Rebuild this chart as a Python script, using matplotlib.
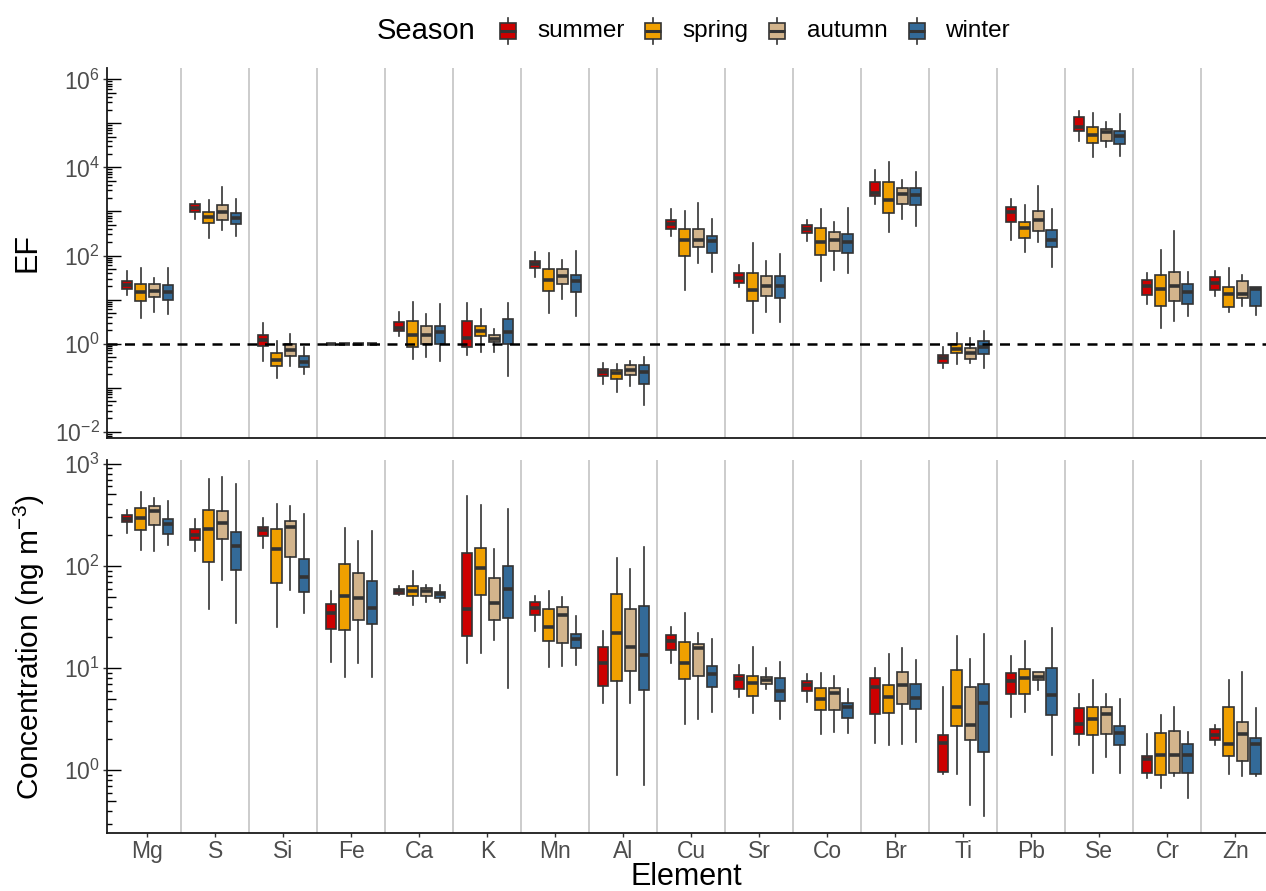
import numpy as np
import matplotlib
matplotlib.use('Agg')
import matplotlib.pyplot as plt
from matplotlib.transforms import blended_transform_factory
from matplotlib.patches import Rectangle
from matplotlib.lines import Line2D

plt.rcParams['font.family'] = ['Liberation Sans', 'DejaVu Sans']
plt.rcParams['mathtext.fontset'] = 'custom'
plt.rcParams['mathtext.rm'] = 'Liberation Sans'
plt.rcParams['mathtext.it'] = 'Liberation Sans:italic'
plt.rcParams['mathtext.bf'] = 'Liberation Sans:bold'
plt.rcParams['mathtext.default'] = 'regular'

elements = ['Mg', 'S', 'Si', 'Fe', 'Ca', 'K', 'Mn', 'Al', 'Cu', 'Sr', 'Co',
            'Br', 'Ti', 'Pb', 'Se', 'Cr', 'Zn']
seasons = ['summer', 'spring', 'autumn', 'winter']
colors = ['#CC0000', '#F0A000', '#D2B48C', '#336A98']

# log10 of (whisker low, Q1, median, Q3, whisker high), one row per element
EF_SUMMER_LOG10 = [
    (1.103, 1.239, 1.330, 1.421, 1.640), (2.821, 2.995, 3.078, 3.161, 3.237),
    (-0.395, -0.055, 0.082, 0.188, 0.468), (0, 0, 0, 0, 0),
    (0.165, 0.278, 0.362, 0.490, 0.717), (-0.251, -0.085, 0.135, 0.520, 0.929),
    (1.512, 1.716, 1.799, 1.875, 2.079), (-0.917, -0.743, -0.652, -0.577, -0.441),
    (2.443, 2.594, 2.707, 2.798, 3.063), (1.277, 1.376, 1.489, 1.595, 1.792),
    (2.329, 2.511, 2.609, 2.700, 2.798), (3.177, 3.343, 3.426, 3.661, 3.933),
    (-0.554, -0.433, -0.319, -0.259, -0.085), (2.352, 2.753, 2.995, 3.093, 3.275),
    (4.607, 4.834, 4.925, 5.152, 5.273), (0.906, 1.111, 1.307, 1.451, 1.595),
    (1.073, 1.217, 1.368, 1.519, 1.656)]
EF_SPRING_LOG10 = [
    (0.573, 0.967, 1.164, 1.360, 1.724), (2.405, 2.738, 2.866, 2.995, 3.252),
    (-0.773, -0.516, -0.365, -0.214, 0.059), (0, 0, 0, 0, 0),
    (-0.350, -0.085, 0.195, 0.505, 0.937), (-0.191, 0.165, 0.286, 0.407, 0.778),
    (0.687, 1.194, 1.436, 1.693, 2.064), (-1.091, -0.796, -0.675, -0.592, -0.463),
    (1.217, 1.981, 2.344, 2.601, 3.018), (0.241, 0.959, 1.209, 1.595, 2.276),
    (1.421, 2.011, 2.299, 2.617, 3.063), (2.541, 2.972, 3.252, 3.676, 4.130),
    (-0.471, -0.214, -0.115, -0.017, 0.248), (2.079, 2.390, 2.617, 2.768, 3.139),
    (4.244, 4.546, 4.728, 4.925, 5.235), (0.362, 0.853, 1.232, 1.557, 2.125),
    (0.710, 0.831, 1.118, 1.292, 1.708)]
EF_AUTUMN_LOG10 = [
    (0.710, 1.050, 1.186, 1.345, 1.481), (2.571, 2.813, 2.980, 3.146, 3.547),
    (-0.509, -0.289, -0.153, 0.0, 0.218), (0, 0, 0, 0, 0),
    (-0.304, -0.017, 0.203, 0.407, 0.664), (-0.183, 0.036, 0.112, 0.188, 0.324),
    (1.005, 1.353, 1.534, 1.693, 1.905), (-0.955, -0.713, -0.599, -0.494, -0.403),
    (1.830, 2.200, 2.344, 2.609, 3.184), (0.710, 1.088, 1.307, 1.542, 1.875),
    (1.671, 2.094, 2.352, 2.541, 2.768), (2.836, 3.177, 3.404, 3.525, 3.721),
    (-0.441, -0.342, -0.206, -0.092, 0.135), (2.306, 2.564, 2.806, 3.003, 3.578),
    (4.455, 4.607, 4.811, 4.864, 5.038), (0.513, 0.967, 1.307, 1.618, 2.564),
    (0.846, 1.027, 1.126, 1.413, 1.557)]
EF_WINTER_LOG10 = [
    (0.679, 0.982, 1.171, 1.323, 1.724), (2.450, 2.723, 2.844, 2.965, 3.282),
    (-0.698, -0.539, -0.425, -0.289, -0.077), (0, 0, 0, 0, 0),
    (-0.403, 0.0, 0.271, 0.407, 0.899), (-0.736, -0.008, 0.256, 0.558, 0.914),
    (0.634, 1.164, 1.421, 1.550, 2.110), (-1.394, -0.925, -0.637, -0.494, -0.304),
    (1.625, 2.064, 2.329, 2.443, 2.828), (0.483, 1.043, 1.300, 1.542, 2.026),
    (1.610, 2.057, 2.306, 2.480, 3.071), (2.670, 3.139, 3.381, 3.540, 3.903),
    (-0.561, -0.236, -0.070, 0.051, 0.278), (1.731, 2.185, 2.344, 2.571, 3.063),
    (4.266, 4.539, 4.713, 4.826, 5.212), (0.619, 0.891, 1.164, 1.345, 1.633),
    (0.649, 0.853, 1.232, 1.292, 1.292)]

CONC_SUMMER_LOG10 = [
    (2.322, 2.426, 2.459, 2.498, 2.547), (2.149, 2.250, 2.299, 2.364, 2.459),
    (2.179, 2.293, 2.351, 2.384, 2.466), (1.063, 1.383, 1.539, 1.627, 1.755),
    (1.712, 1.722, 1.758, 1.771, 1.803), (1.053, 1.311, 1.575, 2.126, 2.681),
    (1.363, 1.516, 1.585, 1.650, 1.706), (0.659, 0.822, 1.047, 1.207, 1.366),
    (1.050, 1.177, 1.265, 1.321, 1.399), (0.717, 0.792, 0.890, 0.929, 1.027),
    (0.668, 0.776, 0.835, 0.874, 0.942), (0.270, 0.554, 0.812, 0.907, 0.998),
    (-0.033, -0.020, 0.264, 0.346, 0.818), (0.518, 0.747, 0.877, 0.955, 1.122),
    (0.244, 0.359, 0.453, 0.606, 0.747), (-0.072, -0.030, 0.111, 0.143, 0.355),
    (0.251, 0.297, 0.349, 0.401, 0.447)]
CONC_SPRING_LOG10 = [
    (2.152, 2.355, 2.469, 2.570, 2.726), (1.575, 2.038, 2.361, 2.547, 2.847),
    (1.402, 1.830, 2.169, 2.364, 2.603), (0.910, 1.373, 1.702, 2.015, 2.368),
    (1.618, 1.702, 1.755, 1.807, 1.947), (1.145, 1.719, 1.983, 2.172, 2.593),
    (1.014, 1.265, 1.402, 1.575, 1.755), (-0.049, 0.871, 1.347, 1.722, 2.077),
    (0.456, 0.890, 1.047, 1.259, 1.542), (0.561, 0.730, 0.854, 0.926, 1.203),
    (0.355, 0.587, 0.701, 0.802, 0.952), (0.248, 0.558, 0.721, 0.835, 1.135),
    (-0.036, 0.434, 0.623, 0.982, 1.314), (0.567, 0.744, 0.900, 0.991, 1.265),
    (-0.023, 0.342, 0.502, 0.620, 0.884), (-0.170, -0.043, 0.147, 0.362, 0.538),
    (-0.036, 0.137, 0.257, 0.623, 0.887)]
CONC_AUTUMN_LOG10 = [
    (2.149, 2.397, 2.537, 2.583, 2.661), (1.865, 2.260, 2.420, 2.534, 2.867),
    (1.768, 2.090, 2.377, 2.443, 2.589), (1.047, 1.471, 1.689, 1.934, 2.244),
    (1.644, 1.709, 1.751, 1.781, 1.810), (1.275, 1.471, 1.634, 1.885, 2.169),
    (1.024, 1.246, 1.523, 1.595, 1.699), (0.662, 0.968, 1.210, 1.578, 1.967),
    (0.499, 0.923, 1.200, 1.233, 1.340), (0.796, 0.841, 0.887, 0.913, 1.001),
    (0.378, 0.593, 0.760, 0.809, 0.926), (0.257, 0.649, 0.832, 0.965, 1.194),
    (-0.343, 0.297, 0.447, 0.818, 1.092), (0.786, 0.880, 0.910, 0.959, 0.959),
    (0.130, 0.352, 0.554, 0.620, 0.747), (-0.056, -0.026, 0.147, 0.381, 0.616),
    (-0.052, 0.094, 0.352, 0.473, 0.965)]
CONC_WINTER_LOG10 = [
    (2.201, 2.315, 2.407, 2.462, 2.635), (1.445, 1.963, 2.195, 2.335, 2.805),
    (1.536, 1.748, 1.895, 2.068, 2.508), (0.916, 1.435, 1.585, 1.852, 2.342),
    (1.644, 1.683, 1.722, 1.745, 1.816), (0.809, 1.487, 1.774, 1.996, 2.554),
    (1.027, 1.197, 1.282, 1.334, 1.510), (-0.144, 0.786, 1.128, 1.608, 2.188),
    (0.571, 0.815, 0.939, 1.021, 1.288), (0.505, 0.678, 0.776, 0.900, 1.063),
    (0.362, 0.509, 0.616, 0.659, 0.799), (0.280, 0.600, 0.708, 0.841, 1.076),
    (-0.447, 0.179, 0.655, 0.841, 1.334), (0.147, 0.538, 0.737, 0.998, 1.389),
    (-0.030, 0.244, 0.362, 0.437, 0.694), (-0.271, -0.030, 0.147, 0.257, 0.375),
    (-0.056, -0.036, 0.261, 0.313, 0.610)]

EF_TABLES = [EF_SUMMER_LOG10, EF_SPRING_LOG10, EF_AUTUMN_LOG10, EF_WINTER_LOG10]
CONC_TABLES = [CONC_SUMMER_LOG10, CONC_SPRING_LOG10, CONC_AUTUMN_LOG10, CONC_WINTER_LOG10]

W, H = 1266, 891
fig = plt.figure(figsize=(W / 100, H / 100), dpi=100)
AX_LEFT, AX_RIGHT = 106.7, 1266
ax_w_px = AX_RIGHT - AX_LEFT


def add_ax(top_px, bot_px):
    return fig.add_axes([AX_LEFT / W, 1 - bot_px / H, ax_w_px / W, (bot_px - top_px) / H])


ax1 = add_ax(68.3, 438.3)
ax2 = add_ax(460.0, 833.3)

offsets = [-0.3, -0.1, 0.1, 0.3]
EDGE = '#333333'
GRAY_TXT = '#4D4D4D'
TICK_FS = 16.5


def draw_boxes(ax, tables):
    x = np.arange(len(elements))
    for si, (tab, col) in enumerate(zip(tables, colors)):
        stats = []
        for row in tab:
            lo, q1, med, q3, hi = [10.0 ** v for v in row]
            stats.append(dict(whislo=lo, q1=q1, med=med, q3=q3, whishi=hi, fliers=[]))
        ax.bxp(stats, positions=x + offsets[si], widths=0.157, patch_artist=True,
               showcaps=False, showfliers=False, manage_ticks=False,
               boxprops=dict(facecolor=col, edgecolor=EDGE, linewidth=1.2),
               medianprops=dict(color=EDGE, linewidth=2.6, solid_capstyle='butt'),
               whiskerprops=dict(color=EDGE, linewidth=1.2), zorder=2)


def style(ax, ylim, labeled_decades, show_x):
    ax.set_yscale('log')
    ax.set_xlim(-0.6, 16.45)
    ax.set_ylim(*ylim)
    for s in ['top', 'right']:
        ax.spines[s].set_visible(False)
    for s in ['left', 'bottom']:
        ax.spines[s].set_color('#1A1A1A')
        ax.spines[s].set_linewidth(1.3)
    for xs in np.arange(0.5, len(elements) - 1, 1.0):
        ax.axvline(xs, color='#CCCCCC', lw=1.4, zorder=0)
    ax.yaxis.set_major_locator(matplotlib.ticker.FixedLocator([10.0 ** k for k in labeled_decades]))
    ax.yaxis.set_minor_locator(matplotlib.ticker.NullLocator())
    ax.set_yticklabels(['$10^{%d}$' % k for k in labeled_decades])
    ax.tick_params(axis='y', which='major', direction='out', length=3, width=1.0,
                   color='#333333', labelcolor=GRAY_TXT, labelsize=TICK_FS, pad=2)
    if show_x:
        ax.set_xticks(np.arange(len(elements)))
        ax.set_xticklabels(elements)
        ax.tick_params(axis='x', direction='out', length=3, width=1.0,
                       color='#333333', labelcolor=GRAY_TXT, labelsize=TICK_FS, pad=2)
    else:
        ax.set_xticks([])
    # log ticks drawn inside the left axis
    trans = blended_transform_factory(ax.transAxes, ax.transData)
    lo, hi = ylim
    kmin, kmax = int(np.floor(np.log10(lo))), int(np.ceil(np.log10(hi)))
    for k in range(kmin, kmax + 1):
        for m in range(1, 10):
            v = m * 10.0 ** k
            if lo <= v <= hi:
                L = 14 if m == 1 else (9 if m == 5 else 5.5)
                ax.plot([0, L / ax_w_px], [v, v], transform=trans, color='black',
                        lw=1.0, clip_on=False, zorder=5, solid_capstyle='butt')


draw_boxes(ax1, EF_TABLES)
draw_boxes(ax2, CONC_TABLES)
style(ax1, (10 ** -2.15, 10 ** 6.25), [-2, 0, 2, 4, 6], False)
style(ax2, (10 ** -0.617, 10 ** 3.036), [0, 1, 2, 3], True)
ax1.axhline(1.0, color='black', lw=1.8, ls=(0, (4, 3)), zorder=4)

# axis titles
fig.text(27 / W, 1 - 253 / H, 'EF', rotation=90, ha='center', va='center', fontsize=22)
fig.text(29 / W, 1 - 647 / H, 'Concentration (ng m$^{-3}$)', rotation=90,
         ha='center', va='center', fontsize=21.5)
fig.text((AX_LEFT + AX_RIGHT) / 2 / W, 1 - 877 / H, 'Element', ha='center', va='center', fontsize=22)

# legend
LEG_Y = 31
fig.text(377 / W, 1 - LEG_Y / H, 'Season', ha='left', va='center', fontsize=21)
glyph_x = [508, 653, 777, 917]
label_x = [537, 682, 807, 945]
for gx, lx, col, name in zip(glyph_x, label_x, colors, seasons):
    bw, bh, wh = 8, 8, 13
    fig.add_artist(Line2D([gx / W, gx / W], [1 - (LEG_Y - wh) / H, 1 - (LEG_Y + wh) / H],
                          color=EDGE, lw=1.2, zorder=1))
    fig.add_artist(Rectangle(((gx - bw) / W, 1 - (LEG_Y + bh) / H), 2 * bw / W, 2 * bh / H,
                             facecolor=col, edgecolor=EDGE, lw=1.2, zorder=2))
    fig.add_artist(Line2D([(gx - bw) / W, (gx + bw) / W], [1 - LEG_Y / H, 1 - LEG_Y / H],
                          color=EDGE, lw=2.2, zorder=3, solid_capstyle='butt'))
    fig.text(lx / W, 1 - LEG_Y / H, name, ha='left', va='center', fontsize=17.5)

fig.savefig('out.png', dpi=100)
